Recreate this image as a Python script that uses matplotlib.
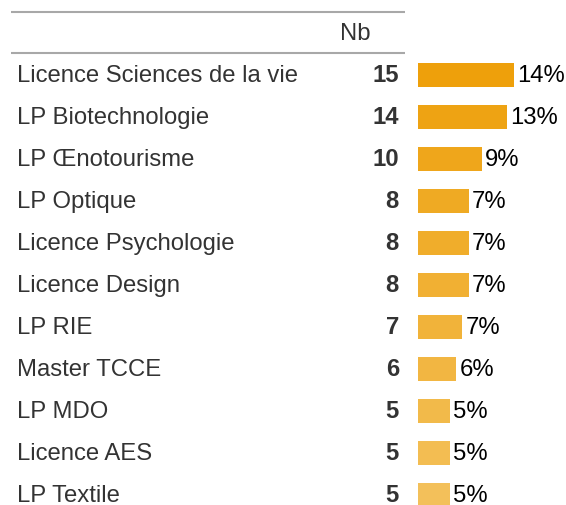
import matplotlib.pyplot as plt
from matplotlib.colors import LinearSegmentedColormap

# Data
formations = [
    "Licence Sciences de la vie", "LP Biotechnologie", "LP \u0152notourisme",
    "LP Optique", "Licence Psychologie", "Licence Design", "LP RIE",
    "Master TCCE", "LP MDO", "Licence AES", "LP Textile",
]
counts = [15, 14, 10, 8, 8, 8, 7, 6, 5, 5, 5]
pct_labels = ["14%", "13%", "9%", "7%", "7%", "7%", "7%", "6%", "5%", "5%", "5%"]

W, H = 566, 505
plt.rcParams["font.family"] = ["Liberation Sans", "DejaVu Sans"]

fig = plt.figure(figsize=(W / 100, H / 100), dpi=100)

# row geometry (pixels)
row0, row_h = 75, 42
ylim = ((H - row0) / row_h, -row0 / row_h)
base = 7 / row_h  # baseline offset below row centre

# table text axes (x in pixels, y in row units)
ax = fig.add_axes([0, 0, 1, 1])
ax.set_xlim(0, W)
ax.set_ylim(*ylim)
ax.axis("off")

text_col = "#333333"
fs = 17.2
ax.plot([11, 405], [-1.5, -1.5], color="#A8A8A8", lw=1.5, solid_capstyle="butt")
ax.plot([11, 405], [-0.52, -0.52], color="#A8A8A8", lw=1.5, solid_capstyle="butt")
ax.text(371, -1.0 + base, "Nb", ha="right", va="baseline", fontsize=fs, color=text_col)
for i, (name, n) in enumerate(zip(formations, counts)):
    ax.text(17, i + base, name, ha="left", va="baseline", fontsize=fs, color=text_col)
    ax.text(399, i + base, str(n), ha="right", va="baseline", fontsize=fs,
            color=text_col, fontweight="bold")

# bar axes
bx0 = 417.5
axb = fig.add_axes([bx0 / W, 0, (W - bx0) / W, 1])
axb.set_xlim(0, (W - bx0) / 6.4)
axb.set_ylim(*ylim)
axb.axis("off")
axb.patch.set_alpha(0)

cmap = LinearSegmentedColormap.from_list("or", ["#EEA00B", "#F3C05A"])
rows = list(range(len(counts)))
colors = [cmap(i / (len(rows) - 1)) for i in rows]
axb.barh(rows, counts, height=0.57, color=colors)
for i, (c, lab) in enumerate(zip(counts, pct_labels)):
    axb.annotate(lab, (c, i + base), xytext=(2.5, 0), textcoords="offset points",
                 ha="left", va="baseline", fontsize=fs, color="black")

fig.savefig("out.png", dpi=100)
